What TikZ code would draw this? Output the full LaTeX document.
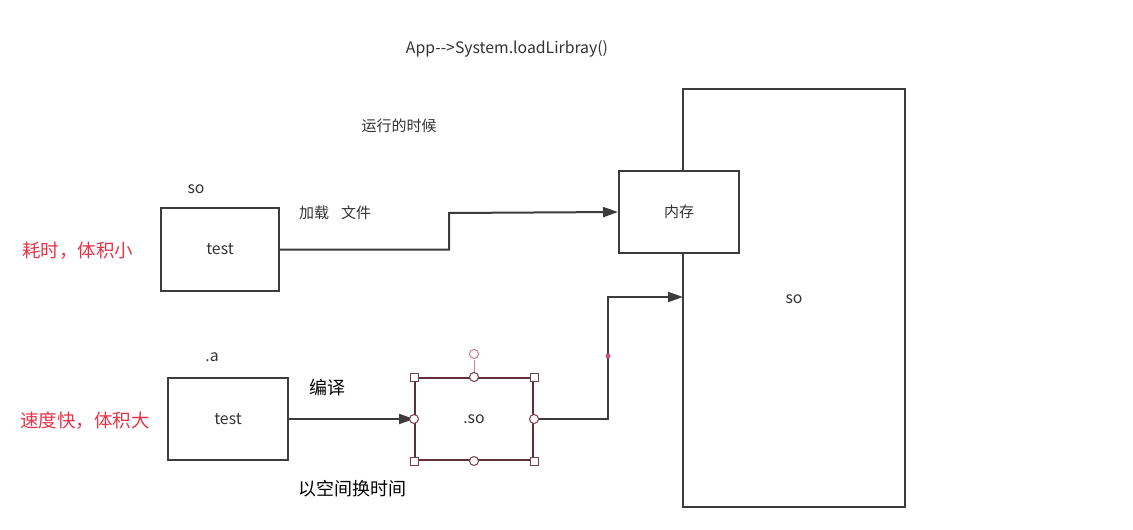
\documentclass[tikz,border=0pt]{standalone}
\usepackage{fontspec}
\setmainfont{Noto Sans CJK SC}
\usetikzlibrary{arrows.meta}
\definecolor{ln}{RGB}{60,60,60}
\definecolor{rd}{RGB}{232,52,72}
\definecolor{hd}{RGB}{120,60,70}
\definecolor{pk}{RGB}{200,90,120}
\tikzset{
  box/.style={draw=ln,line width=2pt,fill=white,inner sep=0pt},
  conn/.style={draw=ln,line width=2pt,-{Triangle[length=15pt,width=10pt]}},
  plain/.style={draw=ln,line width=2pt},
  lbl/.style={font=\fontsize{15}{17}\selectfont,text=black!80,inner sep=0pt},
  ttl/.style={font=\fontsize{15.8}{18}\selectfont,text=black!80,inner sep=0pt},
  big/.style={font=\fontsize{18}{21}\selectfont,text=black,inner sep=0pt},
  red/.style={font=\fontsize{18.5}{21}\selectfont,text=rd,inner sep=0pt},
  hsq/.style={draw=hd,line width=1pt,fill=white,minimum size=8pt,inner sep=0pt},
  hci/.style={circle,draw=hd,line width=1pt,fill=white,minimum size=9pt,inner sep=0pt}
}
\begin{document}
\begin{tikzpicture}[x=1pt,y=-1pt]
\useasboundingbox[fill=white] (0,0) rectangle (1133,530);
% texts
\node[ttl] (title) at (507,49) {App-{}->System.loadLirbray()};
\node[lbl] (run) at (399,126) {运行的时候};
\node[ttl] (solbl) at (196,189) {so};
\node[lbl] (load) at (335,213) {加载\hspace{12pt}文件};
\node[red] (r1) at (78,251) {耗时，体积小};
\node[ttl] (albl) at (212,357) {.a};
\node[big] (comp) at (327,388) {编译};
\node[red] (r2) at (85,421) {速度快，体积大};
\node[big] (trade) at (352,489) {以空间换时间};
% big so box
\draw[plain] (683,171) -- (683,89) -- (905,89) -- (905,507) -- (683,507) -- (683,253);
\coordinate (bigleft) at (683,297);
\node[ttl] (bigso) at (794,299) {so};
% boxes
\node[box,minimum width=118pt,minimum height=83pt,ttl] (t1) at (220,249.5) {test};
\node[box,minimum width=120pt,minimum height=82pt,lbl] (mem) at (679,212) {内存};
\node[box,minimum width=120pt,minimum height=82pt,ttl] (t2) at (228,419) {test};
\node[box,draw=hd!80!black,minimum width=118pt,minimum height=82pt,ttl] (so) at (474,419) {.so};
% connectors
\draw[conn] (t1.east) -- (449,249.5) -- (449,213) -- (mem.west);
\draw[conn] (t2.east) -- (so.west);
\draw[conn] (so.east) -- (608,419) -- (608,297) -- (bigleft);
\fill[pk] (608,356) circle (2.5pt);
% selection handles
\draw[pk!80,line width=1pt] (so.north) -- (474,360);
\node[hci,draw=pk!80] (rot) at (474,354) {};
\foreach \p in {north west,north east,south west,south east}
  \node[hsq] at (so.\p) {};
\foreach \p in {north,south,east,west}
  \node[hci] at (so.\p) {};
\end{tikzpicture}
\end{document}
